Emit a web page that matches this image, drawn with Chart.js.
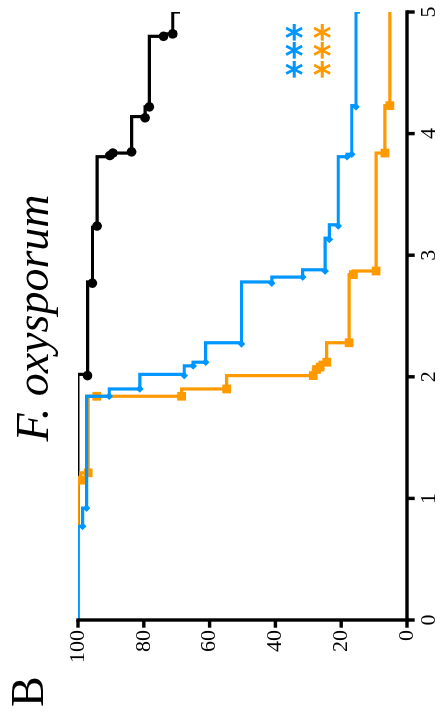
<!DOCTYPE html>
<html><head><meta charset="utf-8">
<script src="https://cdn.jsdelivr.net/npm/chart.js@4"></script>
<style>
html,body{margin:0;padding:0;background:#fff;overflow:hidden;width:445px;height:719px;}
#wrap{position:absolute;left:0;top:0;width:719px;height:445px;transform-origin:0 0;transform:translateY(719px) rotate(-90deg);}
canvas{display:block;}
</style></head><body>
<div id="wrap"><canvas id="c" width="719" height="445"></canvas></div>
<script>
// ---- data (days vs percent survival) ----
const xTicks = [0, 1, 2, 3, 4, 5];
const yTicks = [0, 20, 40, 60, 80, 100];

const blackTimes = [0, 2.02, 2.78, 3.23, 3.81, 3.83, 3.84, 4.14, 4.22, 4.80, 4.82, 5.0];
const blackSurv  = [100, 97.1, 95.6, 94.2, 90.3, 89.4, 83.7, 79.6, 78.3, 74.0, 71.2, 69.0];
const blackCensorTimes = [2.01, 2.77, 3.24, 3.82, 3.84, 3.85, 4.13, 4.22, 4.80, 4.82];
const blackCensorSurv  = [97.1, 95.6, 94.2, 90.3, 89.4, 83.7, 79.6, 78.3, 74.0, 71.2];

const blueTimes = [0, 0.77, 0.92, 1.84, 1.90, 2.02, 2.09, 2.12, 2.28, 2.78, 2.82, 2.88, 3.14, 3.25, 3.81, 3.83, 4.23, 5.0];
const blueSurv  = [100, 98.6, 97.4, 90.5, 81.2, 67.7, 65.0, 61.2, 50.3, 41.1, 31.7, 24.9, 23.6, 20.9, 18.2, 16.8, 15.5, 14.3];
const blueCensorTimes = [0.77, 0.92, 1.84, 1.90, 2.01, 2.09, 2.12, 2.27, 2.77, 2.82, 2.87, 3.13, 3.24, 3.81, 3.83, 4.22];
const blueCensorSurv  = [98.6, 97.4, 90.5, 81.2, 67.7, 65.0, 61.2, 50.3, 41.1, 31.7, 24.9, 23.6, 20.9, 18.2, 16.8, 15.5];

const orangeTimes = [0, 1.15, 1.21, 1.84, 1.84, 1.90, 2.01, 2.06, 2.08, 2.12, 2.28, 2.84, 2.87, 3.84, 4.23, 5.0];
const orangeSurv  = [100, 99.2, 96.9, 94.3, 68.5, 54.8, 28.5, 27.5, 26.4, 24.4, 17.6, 16.3, 9.4, 6.7, 5.2, 5.2];
const orangeCensorTimes = [1.15, 1.21, 1.84, 1.84, 1.90, 2.01, 2.06, 2.08, 2.12, 2.28, 2.84, 2.87, 3.84, 4.23];
const orangeCensorSurv  = [99.2, 96.9, 94.3, 68.5, 54.8, 28.5, 27.5, 26.4, 24.4, 17.6, 16.3, 9.4, 6.7, 5.2];

const titleText = 'F. oxysporum';
const panelLabel = 'B';
const sigText = '*';
const sigTimes = [4.53, 4.68, 4.83];
const blueSigLevel = 34.3;
const orangeSigLevel = 25.8;

const BLACK = '#000000', BLUE = '#0096FF', ORANGE = '#FF9900';

const pts = (t, s) => t.map((v, i) => ({x: v, y: s[i]}));

const lineDs = (t, s, c, order) => ({
  type: 'line', data: pts(t, s), borderColor: c, backgroundColor: c,
  borderWidth: 3.2, stepped: 'before', pointRadius: 0, fill: false, order: order,
  borderCapStyle: 'butt', borderJoinStyle: 'miter'
});
const markDs = (t, s, c, style, r, order) => ({
  type: 'scatter', data: pts(t, s), borderColor: c, backgroundColor: c,
  pointStyle: style, pointRadius: r, pointBorderWidth: 0, showLine: false, order: order
});

const axes = {
  id: 'kmAxes',
  afterDraw(chart) {
    const ctx = chart.ctx, a = chart.chartArea;
    const xs = chart.scales.x, ys = chart.scales.y;
    const tl = 6, w = 3.4;
    ctx.save();
    ctx.fillStyle = '#000000';
    ctx.fillRect(a.left - w / 2, a.top - w / 2, w, a.bottom - a.top + w);
    ctx.fillRect(a.left - w / 2, a.bottom - w / 2, a.right - a.left + w, w);
    yTicks.forEach(v => {
      const y = ys.getPixelForValue(v);
      ctx.fillRect(a.left - tl - w / 2, y - w / 2, tl + w / 2, w);
    });
    xTicks.forEach(v => {
      const x = xs.getPixelForValue(v);
      ctx.fillRect(x - w / 2, a.bottom, w, tl + w / 2);
    });
    ctx.restore();
  }
};

const overlay = {
  id: 'overlay',
  afterDraw(chart) {
    const ctx = chart.ctx, a = chart.chartArea;
    const xs = chart.scales.x, ys = chart.scales.y;
    ctx.save();
    ctx.fillStyle = '#000';
    ctx.font = 'italic 46px "Liberation Serif"';
    ctx.textAlign = 'center';
    ctx.textBaseline = 'alphabetic';
    ctx.fillText(titleText, (a.left + a.right) / 2 - 2, 48);
    ctx.font = '46px "Liberation Serif"';
    ctx.textAlign = 'left';
    ctx.fillText(panelLabel, 12, 43);
    ctx.font = 'bold 36px "DejaVu Sans"';
    const m = ctx.measureText(sigText);
    const off = (m.actualBoundingBoxAscent - m.actualBoundingBoxDescent) / 2;
    const drawStar = (x, y, col) => {
      ctx.save();
      ctx.translate(x, y);
      ctx.rotate(Math.PI / 2);
      ctx.fillStyle = col;
      ctx.textAlign = 'center';
      ctx.textBaseline = 'alphabetic';
      ctx.fillText(sigText, 0, off);
      ctx.restore();
    };
    sigTimes.forEach(t => {
      drawStar(xs.getPixelForValue(t), ys.getPixelForValue(blueSigLevel), BLUE);
      drawStar(xs.getPixelForValue(t), ys.getPixelForValue(orangeSigLevel), ORANGE);
    });
    ctx.restore();
  }
};

const tickGrid = { display: true, drawOnChartArea: false, drawTicks: true, tickLength: 6, tickColor: 'rgba(0,0,0,0)', color: 'rgba(0,0,0,0)' };

new Chart(document.getElementById('c'), {
  data: {
    datasets: [
      markDs(blueCensorTimes, blueCensorSurv, BLUE, 'rectRot', 3.8, 1),
      lineDs(blueTimes, blueSurv, BLUE, 2),
      markDs(orangeCensorTimes, orangeCensorSurv, ORANGE, 'rect', 6.2, 3),
      lineDs(orangeTimes, orangeSurv, ORANGE, 4),
      markDs(blackCensorTimes, blackCensorSurv, BLACK, 'circle', 4.8, 5),
      lineDs(blackTimes, blackSurv, BLACK, 6)
    ]
  },
  options: {
    responsive: false, animation: false, devicePixelRatio: 1,
    layout: { padding: { top: 78, right: 12, left: 0, bottom: 0 } },
    plugins: { legend: { display: false }, tooltip: { enabled: false }, title: { display: false } },
    scales: {
      x: {
        type: 'linear', min: 0, max: 5,
        afterBuildTicks: s => { s.ticks = xTicks.map(v => ({value: v})); },
        afterFit: s => { s.height = 38; },
        ticks: { font: { family: 'Liberation Serif', size: 22 }, color: '#000', padding: 3, maxRotation: 0 },
        grid: tickGrid,
        border: { display: false }
      },
      y: {
        type: 'linear', min: 0, max: 100,
        afterBuildTicks: s => { s.ticks = yTicks.map(v => ({value: v})); },
        afterFit: s => { s.width = 99; },
        ticks: { font: { family: 'Liberation Serif', size: 22 }, color: '#000', padding: 4 },
        grid: tickGrid,
        border: { display: false }
      }
    }
  },
  plugins: [axes, overlay]
});
</script>
</body></html>
